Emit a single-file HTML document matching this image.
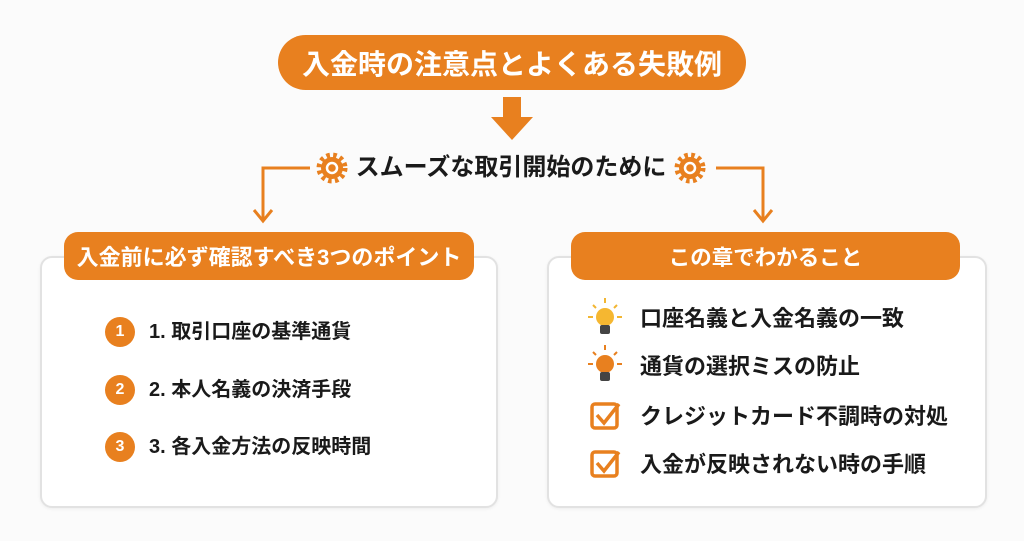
<!DOCTYPE html>
<html><head><meta charset="utf-8"><style>
body{margin:0;width:1024px;height:541px;background:#fbfbfb;position:relative;overflow:hidden;font-family:"Liberation Sans","Noto Sans CJK JP",sans-serif;font-weight:bold;color:#1a1a1a}
.a{position:absolute}
.pill{position:absolute;background:#e8801f;color:#fff;border-radius:14px;display:flex;align-items:center;justify-content:center;white-space:nowrap}
.box{position:absolute;border:2px solid #e2e2e2;border-radius:12px;background:#fff;box-shadow:0 1px 3px rgba(0,0,0,.06)}
.num{position:absolute;width:30px;height:30px;border-radius:50%;background:#e8801f;color:#fff;font-size:16px;display:flex;align-items:center;justify-content:center}
.t{position:absolute;font-size:20px;line-height:26px;white-space:nowrap}
.r{font-size:22px}
</style></head><body>
<div class="pill" style="left:278px;top:35px;width:468px;height:55px;border-radius:28px;font-size:28px">入金時の注意点とよくある失敗例</div>
<svg class="a" style="left:0;top:0" width="1024" height="541">
<polygon points="503,97 521,97 521,117 533,117 512,140 491,117 503,117" fill="#e8801f"/>
<g fill="none" stroke="#e8801f" stroke-width="3">
<polyline points="310,168 263,168 263,220"/><polyline points="254,210 263,221 272,210"/>
<polyline points="716,168 763,168 763,220"/><polyline points="754,210 763,221 772,210"/>
</g>
<g fill="#e8801f"><circle cx="332" cy="168" r="11"/><circle cx="690" cy="168" r="11"/></g>
<g stroke="#e8801f" stroke-width="5" stroke-dasharray="3.5 3.4"><circle cx="332" cy="168" r="13" fill="none"/><circle cx="690" cy="168" r="13" fill="none"/></g>
<g fill="none" stroke="#fff" stroke-width="2.5"><circle cx="332" cy="168" r="5"/><circle cx="690" cy="168" r="5"/></g>
</svg>
<div class="t" style="left:352px;top:153px;width:318px;text-align:center;font-size:24px;line-height:30px">スムーズな取引開始のために</div>

<div class="box" style="left:40px;top:256px;width:454px;height:248px"></div>
<div class="pill" style="left:64px;top:232px;width:410px;height:48px;font-size:22px">入金前に必ず確認すべき3つのポイント</div>
<div class="num" style="left:105px;top:317px">1</div><div class="t" style="left:149px;top:319px">1. 取引口座の基準通貨</div>
<div class="num" style="left:105px;top:375px">2</div><div class="t" style="left:149px;top:377px">2. 本人名義の決済手段</div>
<div class="num" style="left:105px;top:432px">3</div><div class="t" style="left:149px;top:434px">3. 各入金方法の反映時間</div>

<div class="box" style="left:547px;top:256px;width:436px;height:248px"></div>
<div class="pill" style="left:571px;top:232px;width:389px;height:48px;font-size:21.5px">この章でわかること</div>
<svg class="a" style="left:585px;top:295px" width="45" height="190">
<g stroke="#f2b632" stroke-width="2"><line x1="20" y1="3" x2="20" y2="8"/><line x1="8" y1="10" x2="11" y2="13"/><line x1="32" y1="10" x2="29" y2="13"/><line x1="3" y1="22" x2="8" y2="22"/><line x1="32" y1="22" x2="37" y2="22"/></g>
<circle cx="20" cy="22" r="9" fill="#f5b731"/><rect x="15" y="30" width="10" height="9" rx="2" fill="#444"/>
<g transform="translate(0,47)"><g stroke="#e8801f" stroke-width="2"><line x1="20" y1="3" x2="20" y2="8"/><line x1="8" y1="10" x2="11" y2="13"/><line x1="32" y1="10" x2="29" y2="13"/><line x1="3" y1="22" x2="8" y2="22"/><line x1="32" y1="22" x2="37" y2="22"/></g>
<circle cx="20" cy="22" r="9" fill="#e8801f"/><rect x="15" y="30" width="10" height="9" rx="2" fill="#444"/></g>
<g fill="none" stroke="#e8801f" stroke-width="3.5"><rect x="7" y="109" width="25" height="24" rx="3"/><polyline points="12,120 19,128 34,109"/>
<rect x="7" y="157" width="25" height="24" rx="3"/><polyline points="12,168 19,176 34,157"/></g>
</svg>
<div class="t r" style="left:640px;top:306px">口座名義と入金名義の一致</div>
<div class="t r" style="left:640px;top:354px">通貨の選択ミスの防止</div>
<div class="t r" style="left:640px;top:404px">クレジットカード不調時の対処</div>
<div class="t r" style="left:640px;top:452px">入金が反映されない時の手順</div>
</body></html>
